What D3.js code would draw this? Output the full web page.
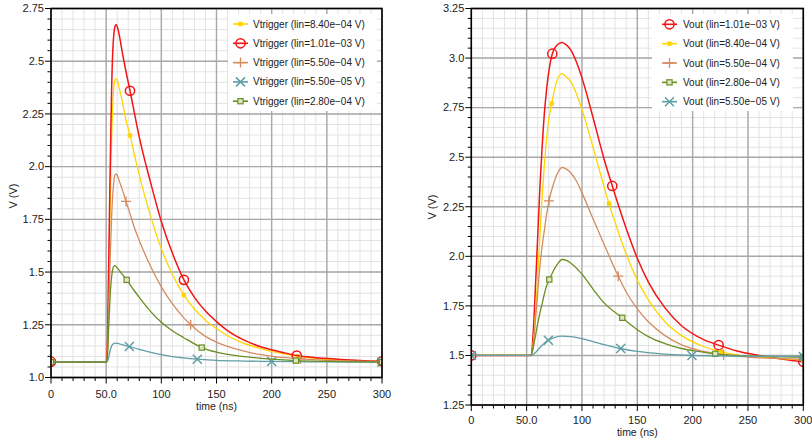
<!DOCTYPE html>
<html>
<head>
<meta charset="utf-8">
<script src="https://cdn.jsdelivr.net/npm/d3@7"></script>
<style>
body{margin:0;background:#fff;}
svg{display:block;font-family:"Liberation Sans",Arial,sans-serif;}
</style>
</head>
<body>
<svg id="chart" width="812" height="441"></svg>
<script>
let xTickVals = [0, 50, 100, 150, 200, 250, 300];
let xTickLabels = ["0", "50.0", "100", "150", "200", "250", "300"];
let trigTicks = [1.0, 1.25, 1.5, 1.75, 2.0, 2.25, 2.5, 2.75];
let trigTickLabels = ["1.0", "1.25", "1.5", "1.75", "2.0", "2.25", "2.5", "2.75"];
let outTicks = [1.25, 1.5, 1.75, 2.0, 2.25, 2.5, 2.75, 3.0, 3.25];
let outTickLabels = ["1.25", "1.5", "1.75", "2.0", "2.25", "2.5", "2.75", "3.0", "3.25"];

// Vtrigger, [time ns, V]
let trigRed = [[0,1.075],[50,1.075],[51,1.13],[52,1.45],[53,1.78],[54,2.1],[55,2.38],[56,2.55],[57,2.63],[58,2.665],[59,2.673],[60,2.665],[62,2.62],[65,2.53],[68,2.45],[71.6,2.36],[75,2.27],[80,2.14],[90,1.93],[100,1.74],[110,1.59],[120.5,1.463],[130,1.38],[140,1.315],[150,1.265],[160,1.222],[175,1.177],[190,1.146],[210,1.119],[222.7,1.104],[240,1.094],[260,1.087],[280,1.081],[300,1.077]];
let trigYellow = [[0,1.075],[50,1.075],[51,1.11],[52,1.38],[53,1.65],[54,1.92],[55,2.15],[56,2.3],[57,2.38],[58,2.41],[59,2.417],[60,2.41],[62,2.37],[65,2.3],[68,2.22],[71.6,2.148],[75,2.07],[80,1.96],[90,1.77],[100,1.61],[110,1.49],[120.5,1.391],[130,1.325],[140,1.272],[150,1.232],[160,1.198],[175,1.162],[190,1.137],[210,1.113],[224,1.1],[240,1.09],[260,1.083],[280,1.079],[300,1.075]];
let trigBrown = [[0,1.075],[50,1.075],[51,1.1],[52,1.27],[53,1.45],[54,1.62],[55,1.77],[56,1.87],[57,1.93],[58,1.96],[59,1.966],[60,1.96],[62,1.93],[65,1.885],[68,1.835],[72,1.77],[75,1.72],[80,1.65],[90,1.53],[100,1.43],[110,1.35],[120,1.285],[126.6,1.25],[140,1.195],[150,1.168],[160,1.148],[175,1.125],[190,1.108],[210,1.095],[226,1.088],[250,1.081],[275,1.078],[300,1.075]];
let trigTeal = [[0,1.073],[50.5,1.073],[52,1.09],[53,1.115],[54,1.135],[55,1.15],[56,1.158],[58,1.163],[60,1.162],[65,1.155],[71,1.147],[80,1.133],[90,1.12],[100,1.108],[110,1.099],[120,1.093],[132.6,1.087],[150,1.081],[175,1.078],[200,1.076],[250,1.074],[300,1.073]];
let trigGreen = [[0,1.073],[50,1.073],[51,1.09],[52,1.2],[53,1.32],[54,1.42],[55,1.48],[56,1.515],[57,1.528],[58,1.531],[60,1.52],[63,1.5],[68.6,1.463],[75,1.415],[80,1.38],[90,1.315],[100,1.262],[110,1.222],[120,1.19],[136.6,1.142],[150,1.12],[175,1.099],[200,1.087],[222,1.08],[250,1.076],[300,1.073]];

// Vout, [time ns, V]
let outRed = [[0,1.5],[54,1.5],[56,1.62],[58,1.85],[60,2.1],[62,2.35],[64,2.55],[66,2.72],[68,2.84],[70,2.93],[73.2,3.022],[76,3.055],[80,3.075],[82,3.078],[85,3.07],[90,3.04],[95,2.98],[100,2.9],[110,2.7],[120,2.49],[127.4,2.355],[140,2.14],[150,1.99],[160,1.87],[175,1.74],[190,1.65],[210,1.58],[223.5,1.552],[240,1.522],[260,1.5],[280,1.482],[300,1.468]];
let outYellow = [[0,1.5],[54,1.5],[56,1.56],[58,1.7],[60,1.9],[62,2.1],[64,2.3],[66,2.46],[68,2.59],[70,2.69],[72.6,2.77],[76,2.86],[80,2.915],[82,2.921],[85,2.91],[90,2.88],[95,2.82],[100,2.74],[110,2.55],[120,2.35],[124.4,2.266],[130,2.17],[140,2.01],[150,1.88],[160,1.78],[175,1.67],[190,1.6],[210,1.545],[226,1.518],[240,1.503],[260,1.492],[280,1.484],[300,1.478]];
let outBrown = [[0,1.5],[54,1.5],[56,1.56],[58,1.68],[60,1.82],[62,1.95],[64,2.05],[66,2.13],[68,2.21],[70.2,2.28],[74,2.36],[78,2.42],[82,2.448],[86,2.44],[90,2.42],[95,2.38],[100,2.32],[110,2.19],[120,2.06],[132.8,1.9],[140,1.82],[150,1.735],[160,1.67],[175,1.6],[190,1.553],[210,1.52],[228,1.503],[250,1.492],[275,1.485],[300,1.48]];
let outGreen = [[0,1.5],[54,1.5],[56,1.54],[58,1.6],[60,1.66],[62,1.715],[64,1.76],[66,1.81],[68,1.85],[70.5,1.883],[74,1.925],[78,1.962],[82,1.984],[86,1.98],[90,1.965],[100,1.91],[110,1.835],[120,1.765],[136.4,1.69],[150,1.63],[160,1.595],[175,1.56],[190,1.535],[205,1.52],[220.5,1.508],[240,1.5],[260,1.496],[300,1.49]];
let outTeal = [[0,1.5],[54,1.5],[56,1.505],[58,1.515],[62,1.54],[66,1.562],[69.6,1.577],[75,1.59],[82,1.597],[90,1.595],[100,1.585],[110,1.57],[120,1.555],[135,1.535],[150,1.52],[175,1.507],[199.4,1.5],[230,1.497],[260,1.496],[300,1.495]];

let colors = {red: "#f41414", yellow: "#ffd500", brown: "#d38c62", teal: "#5f9ea6", green: "#6b8e23"};

let trigSeries = [
  {name: "Vtrigger (lin=8.40e\u221204 V)", data: trigYellow, marks: [71.6, 120.5, 224, 300], color: colors.yellow, shape: "dot"},
  {name: "Vtrigger (lin=1.01e\u221203 V)", data: trigRed, marks: [0, 71.6, 120.5, 222.7, 300], color: colors.red, shape: "circle"},
  {name: "Vtrigger (lin=5.50e\u221204 V)", data: trigBrown, marks: [68, 126.6, 226, 300], color: colors.brown, shape: "plus"},
  {name: "Vtrigger (lin=5.50e\u221205 V)", data: trigTeal, marks: [71, 132.6, 200, 300], color: colors.teal, shape: "cross"},
  {name: "Vtrigger (lin=2.80e\u221204 V)", data: trigGreen, marks: [0, 68.6, 136.6, 222, 300], color: colors.green, shape: "square"}
];
let outSeries = [
  {name: "Vout (lin=1.01e\u221203 V)", data: outRed, marks: [0, 73.2, 127.4, 223.5, 300], color: colors.red, shape: "circle"},
  {name: "Vout (lin=8.40e\u221204 V)", data: outYellow, marks: [72.6, 124.4, 226, 300], color: colors.yellow, shape: "dot"},
  {name: "Vout (lin=5.50e\u221204 V)", data: outBrown, marks: [70.2, 132.8, 228, 300], color: colors.brown, shape: "plus"},
  {name: "Vout (lin=2.80e\u221204 V)", data: outGreen, marks: [70.5, 136.4, 220.5, 300], color: colors.green, shape: "square"},
  {name: "Vout (lin=5.50e\u221205 V)", data: outTeal, marks: [0, 69.6, 135, 199.4, 300], color: colors.teal, shape: "cross"}
];

let svg = d3.select("#chart");

function marker(g, shape, color, cx, cy){
  let m = g.append("g")
    .attr("transform", `translate(${cx},${cy})`)
    .attr("stroke", color)
    .attr("fill", "none");
  if(shape == "circle"){
    m.append("circle").attr("r", 4.6).attr("stroke-width", 1.5);
  }else if(shape == "dot"){
    m.append("rect").attr("x", -2.2).attr("y", -2.2).attr("width", 4.4).attr("height", 4.4)
      .attr("fill", color).attr("stroke", "none");
  }else if(shape == "plus"){
    m.append("path").attr("d", "M-5,0H5M0,-5V5").attr("stroke-width", 1.3);
  }else if(shape == "cross"){
    m.append("path").attr("d", "M-4.5,-4.5L4.5,4.5M-4.5,4.5L4.5,-4.5").attr("stroke-width", 1.5);
  }else if(shape == "square"){
    m.append("rect").attr("x", -2.6).attr("y", -2.6).attr("width", 5.2).attr("height", 5.2)
      .attr("stroke-width", 1.2).attr("fill", "#dfe8c6");
  }
}

function drawPanel(p){
  let x = d3.scaleLinear([0, 300], [p.left, p.right]);
  let y = d3.scaleLinear(p.yDomain, [p.bottom, p.top]);
  let g = svg.append("g").attr("name", p.id);

  // grid
  let xMinor = d3.range(0, 31).map(i => i * 10);
  let nY = Math.round((p.yDomain[1] - p.yDomain[0]) / 0.05);
  let yMinor = d3.range(0, nY + 1).map(i => p.yDomain[0] + i * 0.05);
  g.append("g").attr("stroke", "#e3e3e3").attr("stroke-width", 1)
    .call(s => s.selectAll("line.v").data(xMinor).join("line")
      .attr("x1", d => x(d)).attr("x2", d => x(d)).attr("y1", p.top).attr("y2", p.bottom))
    .call(s => s.selectAll("line.h").data(yMinor).join("line")
      .attr("x1", p.left).attr("x2", p.right).attr("y1", d => y(d)).attr("y2", d => y(d)));
  g.append("g").attr("stroke", "#a9a9a9").attr("stroke-width", 1.4)
    .call(s => s.selectAll("line.v").data(xTickVals).join("line")
      .attr("x1", d => x(d)).attr("x2", d => x(d)).attr("y1", p.top).attr("y2", p.bottom))
    .call(s => s.selectAll("line.h").data(p.ticks).join("line")
      .attr("x1", p.left).attr("x2", p.right).attr("y1", d => y(d)).attr("y2", d => y(d)));

  // legend box hides the grid
  let lg = p.legend;
  g.append("rect").attr("x", lg.x).attr("y", lg.y).attr("width", lg.w).attr("height", lg.h).attr("fill", "#fff");

  // curves
  let clipId = "clip-" + p.id;
  g.append("clipPath").attr("id", clipId)
    .append("rect").attr("x", p.left).attr("y", p.top)
    .attr("width", p.right - p.left).attr("height", p.bottom - p.top);
  let line = d3.line().x(d => x(d[0])).y(d => y(d[1])).curve(d3.curveMonotoneX);
  let plot = g.append("g").attr("clip-path", `url(#${clipId})`);
  p.series.forEach(s => {
    plot.append("path")
      .datum(s.data)
      .attr("fill", "none")
      .attr("stroke", s.color)
      .attr("stroke-width", s.shape == "circle" ? 1.5 : 1.3)
      .attr("d", line);
    s.marks.forEach(t => {
      let pt = s.data.find(d => d[0] == t);
      marker(plot, s.shape, s.color, x(pt[0]), y(pt[1]));
    });
  });

  // frame
  g.append("rect").attr("x", p.left).attr("y", p.top)
    .attr("width", p.right - p.left).attr("height", p.bottom - p.top)
    .attr("fill", "none").attr("stroke", "#000").attr("stroke-width", 1.6);

  // axis ticks
  let ticks = g.append("g").attr("stroke", "#000").attr("stroke-width", 1);
  ticks.selectAll("line.xm").data(xMinor).join("line")
    .attr("x1", d => x(d)).attr("x2", d => x(d))
    .attr("y1", p.bottom).attr("y2", d => p.bottom + (d % 50 == 0 ? 6 : 3.5));
  ticks.selectAll("line.ym").data(yMinor).join("line")
    .attr("y1", d => y(d)).attr("y2", d => y(d))
    .attr("x1", p.left).attr("x2", (d, i) => p.left - (i % 5 == 0 ? 6 : 3.5));

  let labels = g.append("g").attr("fill", "#222").attr("font-size", "11px");
  labels.selectAll("text.x").data(xTickVals).join("text")
    .attr("x", d => x(d)).attr("y", p.xLabelY)
    .attr("text-anchor", "middle")
    .text((d, i) => xTickLabels[i]);
  labels.selectAll("text.y").data(p.ticks).join("text")
    .attr("x", p.left - 7).attr("y", d => y(d)).attr("dy", "0.35em")
    .attr("text-anchor", "end")
    .text((d, i) => p.tickLabels[i]);
  labels.append("text")
    .attr("x", (p.left + p.right) / 2).attr("y", p.titleY)
    .attr("text-anchor", "middle")
    .attr("font-size", "10.5px")
    .text("time (ns)");
  labels.append("text")
    .attr("transform", `translate(${p.yLabelX},${p.yLabelY}) rotate(-90)`)
    .attr("text-anchor", "middle")
    .text("V (V)");

  // legend entries
  let rows = g.append("g").selectAll("g").data(p.series).join("g")
    .attr("transform", (d, i) => `translate(0,${lg.rowY + i * lg.step})`);
  rows.append("line")
    .attr("x1", lg.symX).attr("x2", lg.symX + 15)
    .attr("stroke", d => d.color).attr("stroke-width", 1.6);
  rows.each(function(d){
    marker(d3.select(this), d.shape, d.color, lg.symX + 7.5, 0);
  });
  rows.append("text")
    .attr("x", lg.textX).attr("dy", "0.35em")
    .attr("font-size", "10px").attr("fill", "#222")
    .text(d => d.name);
}

drawPanel({
  id: "trig", left: 51, right: 382, top: 8.5, bottom: 377.5,
  yDomain: [1.0, 2.75], ticks: trigTicks, tickLabels: trigTickLabels, series: trigSeries,
  xLabelY: 398, titleY: 409.5, yLabelX: 17, yLabelY: 196,
  legend: {x: 228, y: 14, w: 149, h: 97, symX: 233, textX: 253, rowY: 24, step: 19.3}
});
drawPanel({
  id: "out", left: 471.3, right: 803.3, top: 8.5, bottom: 405,
  yDomain: [1.25, 3.25], ticks: outTicks, tickLabels: outTickLabels, series: outSeries,
  xLabelY: 424, titleY: 435.5, yLabelX: 436, yLabelY: 207,
  legend: {x: 652, y: 14, w: 141, h: 97, symX: 662, textX: 683, rowY: 24.3, step: 19.35}
});
</script>
</body>
</html>
